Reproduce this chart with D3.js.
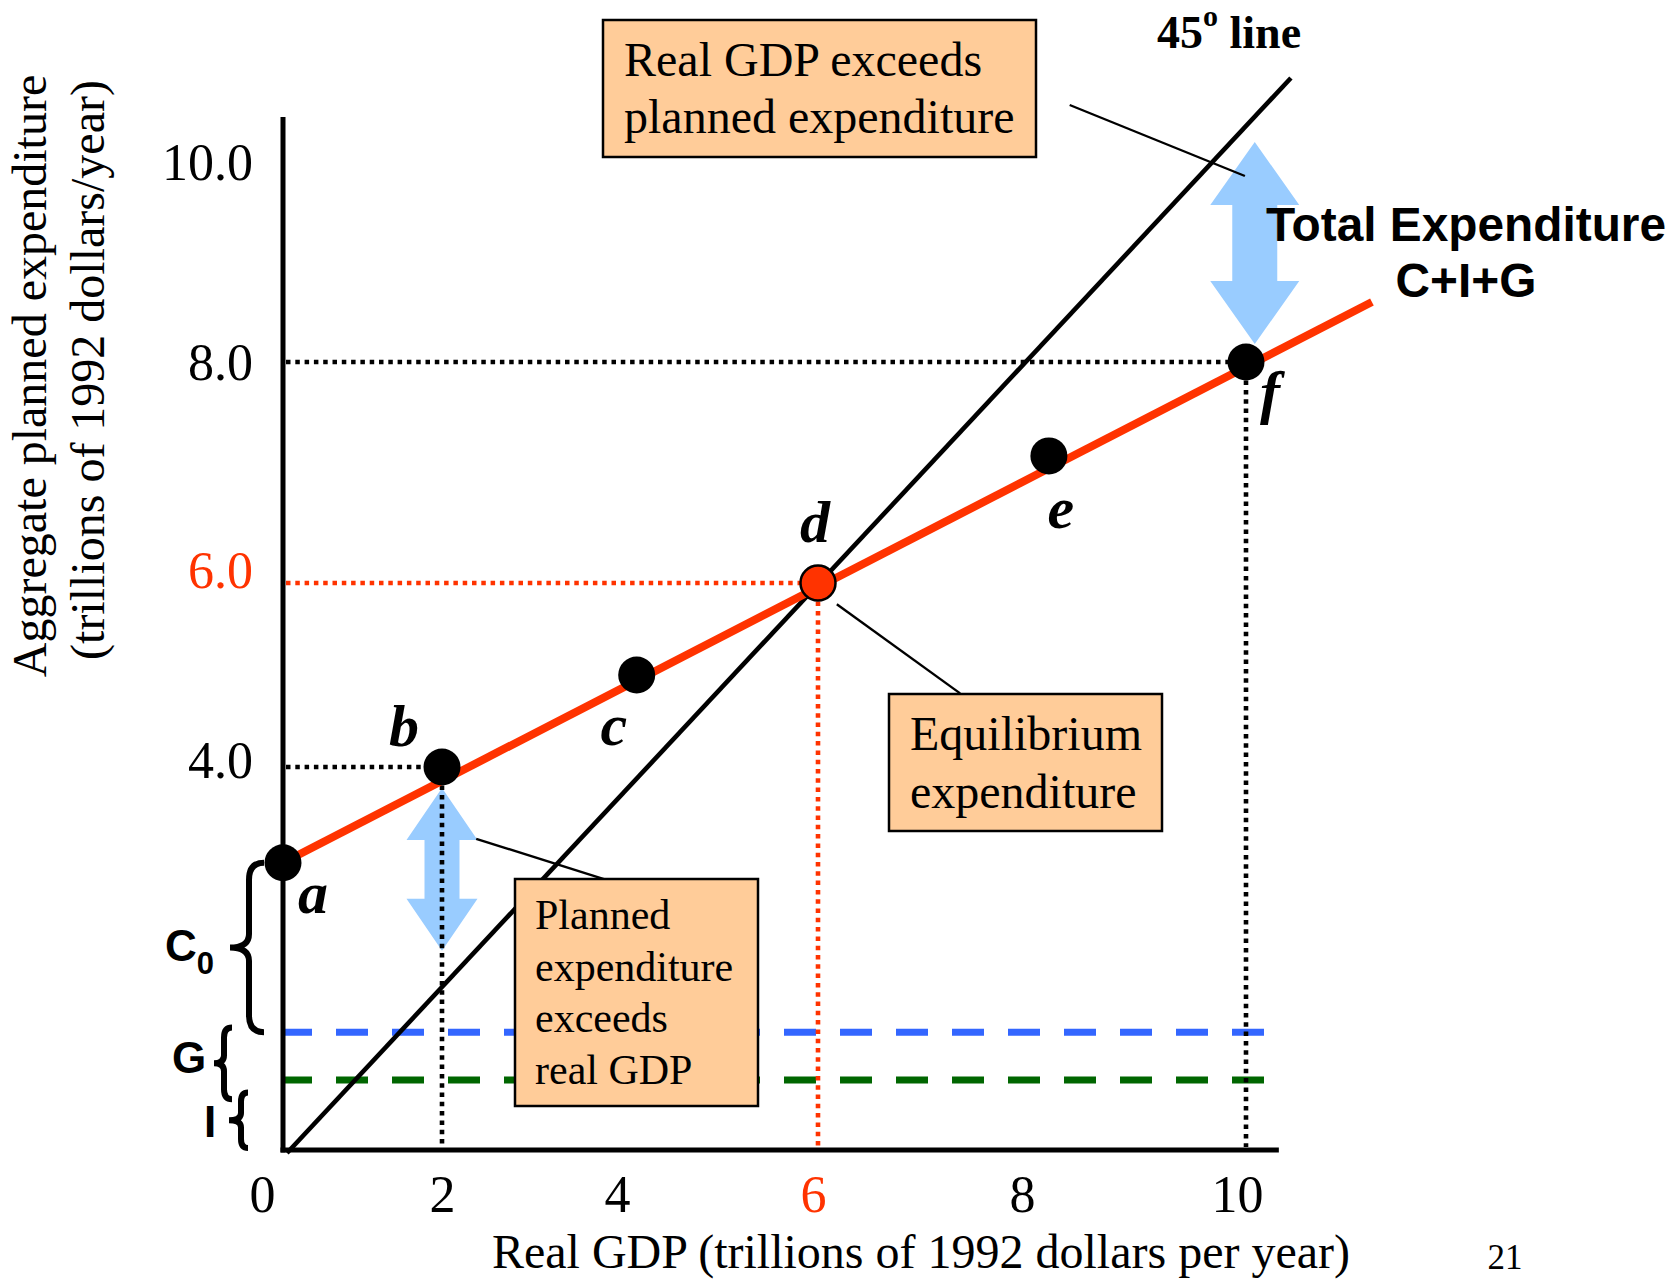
<!DOCTYPE html>
<html><head><meta charset="utf-8">
<script src="https://cdn.jsdelivr.net/npm/d3@7"></script>
<style>body{margin:0;background:#fff}</style>
</head><body>
<svg id="chart" width="1676" height="1285"></svg>
<script>
// ---- data ----
const xTicks = [0, 2, 4, 6, 8, 10];
const xTickLabels = ["0", "2", "4", "6", "8", "10"];
const yTicks = [4, 6, 8, 10];
const yTickLabels = ["4.0", "6.0", "8.0", "10.0"];
const pointNames = ["a", "b", "c", "d", "e", "f"];
const pointX = [0, 2, 4.15, 6, 8.2, 10];
const pointY = [3, 4, 5.0, 6, 7.15, 8];
const aeX = [0, 11.15];          // C+I+G line ends
const aeY = [3, 8.6];
const line45X = [0, 10.41];      // 45 degree line ends
const line45Y = [0, 10.84];
const levelNames = ["I+G", "I"];
const levelValues = [1.23, 0.73];
const levelEnd = 10.18;
const guideNames = ["b", "d", "f"];
const arrowX = [2.0, 10.08];
const arrowLow = [2.08, 8.18];
const arrowHigh = [3.78, 10.2];
const braceNames = ["C", "G", "I"];
const braceLow = [1.23, 0.53, 0.02];
const braceHigh = [3.0, 1.28, 0.6];
const axisTop = 10.45, axisRight = 10.3;

// ---- scales (hand-drawn axes: piecewise linear) ----
const x = d3.scaleLinear().domain([0, 2, 4, 6, 8, 10]).range([283, 442, 622, 818, 1027, 1246]);
const y = d3.scaleLinear().domain([0, 4, 6, 8, 10]).range([1150, 767, 583, 362, 162]);

const RED = "#FF3300", BLUEA = "#99CCFF", PEACH = "#FFCC99";
const SERIF = "'Liberation Serif','Times New Roman',serif";
const SANS = "'Liberation Sans',Arial,sans-serif";
const svg = d3.select("#chart");
svg.append("rect").attr("width", 1676).attr("height", 1285).attr("fill", "#fff");

// dashed I and I+G levels
const levelColors = ["#3366FF", "#006600"];
svg.selectAll("line.level").data(levelValues).join("line").attr("class", "level")
  .attr("x1", x(0)).attr("x2", x(levelEnd))
  .attr("y1", d => y(d)).attr("y2", d => y(d))
  .attr("stroke", (d, i) => levelColors[i]).attr("stroke-width", 7)
  .attr("stroke-dasharray", "32,24").attr("stroke-dashoffset", 3);

// light blue double arrows
function dblArrow(cx, yt, yb, hl, hw, sw) {
  return `M${cx},${yt} L${cx + hw / 2},${yt + hl} L${cx + sw / 2},${yt + hl} L${cx + sw / 2},${yb - hl} L${cx + hw / 2},${yb - hl} L${cx},${yb} L${cx - hw / 2},${yb - hl} L${cx - sw / 2},${yb - hl} L${cx - sw / 2},${yt + hl} L${cx - hw / 2},${yt + hl} Z`;
}
const arrowDims = [[52, 71, 35], [63, 89, 45]];
svg.selectAll("path.arrow").data(arrowX).join("path").attr("class", "arrow")
  .attr("d", (d, i) => dblArrow(x(d), y(arrowHigh[i]), y(arrowLow[i]), ...arrowDims[i]))
  .attr("fill", BLUEA);

// dotted guide lines
const guides = guideNames.map(n => pointNames.indexOf(n));
const dotted = svg.append("g").attr("stroke-width", 4.6).attr("stroke-dasharray", "4.5,4.8");
guides.forEach(i => {
  const c = pointNames[i] === "d" ? RED : "#000";
  dotted.append("line").attr("x1", x(0) + 3).attr("x2", x(pointX[i]))
    .attr("y1", y(pointY[i])).attr("y2", y(pointY[i])).attr("stroke", c);
  dotted.append("line").attr("x1", x(pointX[i])).attr("x2", x(pointX[i]))
    .attr("y1", y(pointY[i])).attr("y2", y(0) - 3).attr("stroke", c);
});

// 45 degree line
svg.append("line").attr("x1", x(line45X[0]) + 4).attr("y1", y(line45Y[0]) + 3)
  .attr("x2", x(line45X[1])).attr("y2", y(line45Y[1]))
  .attr("stroke", "#000").attr("stroke-width", 4.6);

// leader lines (in data units)
const leaders = [[8.39, 10.57, 9.99, 9.86], [6.18, 5.77, 7.36, 4.80], [2.38, 3.25, 3.8, 2.83]];
svg.selectAll("line.leader").data(leaders).join("line").attr("class", "leader")
  .attr("x1", d => x(d[0])).attr("y1", d => y(d[1]))
  .attr("x2", d => x(d[2])).attr("y2", d => y(d[3]))
  .attr("stroke", "#000").attr("stroke-width", 2.4);

// C+I+G line
svg.append("line").attr("x1", x(aeX[0])).attr("y1", y(aeY[0]))
  .attr("x2", x(aeX[1])).attr("y2", y(aeY[1]))
  .attr("stroke", RED).attr("stroke-width", 8);

// axes
svg.append("line").attr("x1", x(0)).attr("x2", x(0)).attr("y1", y(axisTop)).attr("y2", y(0) + 2.5)
  .attr("stroke", "#000").attr("stroke-width", 5);
svg.append("line").attr("x1", x(0) - 2.5).attr("x2", x(axisRight)).attr("y1", y(0)).attr("y2", y(0))
  .attr("stroke", "#000").attr("stroke-width", 5);

// annotation boxes
const boxes = [
  {x: 603, y: 20, w: 433, h: 137, tx: 624, base: [76, 133], fs: 48, lines: ["Real GDP exceeds", "planned expenditure"]},
  {x: 889, y: 694, w: 273, h: 137, tx: 910, base: [750, 808], fs: 48, lines: ["Equilibrium", "expenditure"]},
  {x: 515, y: 879, w: 243, h: 227, tx: 535, base: [929, 981, 1032, 1084], fs: 42, lines: ["Planned", "expenditure", "exceeds", "real GDP"]}
];
boxes.forEach(b => {
  svg.append("rect").attr("x", b.x).attr("y", b.y).attr("width", b.w).attr("height", b.h)
    .attr("fill", PEACH).attr("stroke", "#000").attr("stroke-width", 2.5);
  b.lines.forEach((t, i) => svg.append("text").attr("x", b.tx).attr("y", b.base[i])
    .attr("font-family", SERIF).attr("font-size", b.fs).attr("fill", "#000").text(t));
});

// points
svg.selectAll("circle.pt").data(pointX).join("circle").attr("class", "pt")
  .attr("cx", d => x(d)).attr("cy", (d, i) => y(pointY[i]))
  .attr("r", (d, i) => pointNames[i] === "d" ? 17.5 : 18.5)
  .attr("fill", (d, i) => pointNames[i] === "d" ? RED : "#000")
  .attr("stroke", "#000").attr("stroke-width", (d, i) => pointNames[i] === "d" ? 2.5 : 0);

// point labels
const lblOff = {a: [30, 50], b: [-38, -21], c: [-23, 70], d: [-3, -41], e: [12, 72], f: [24, 50]};
svg.selectAll("text.pl").data(pointNames).join("text").attr("class", "pl")
  .attr("x", (d, i) => x(pointX[i]) + lblOff[d][0]).attr("y", (d, i) => y(pointY[i]) + lblOff[d][1])
  .attr("text-anchor", "middle").attr("font-family", SERIF).attr("font-size", 60)
  .attr("font-weight", "bold").attr("font-style", "italic").text(d => d);

// tick labels via d3 axes
const xAxis = svg.append("g").attr("transform", "translate(0,1212)")
  .call(d3.axisBottom(x).tickValues(xTicks).tickFormat((d, i) => xTickLabels[i]).tickSize(0));
xAxis.select(".domain").remove();
xAxis.selectAll("text").attr("y", 0).attr("dy", 0)
  .attr("dx", d => d === 0 ? -21 : d === 2 ? 0 : d === 10 ? -9 : -5)
  .attr("font-family", SERIF).attr("font-size", 52)
  .attr("fill", d => d === 6 ? RED : "#000");
const yOff = {4: 10, 6: 4, 8: 17, 10: 17};
const yAxis = svg.append("g").attr("transform", "translate(253,0)")
  .call(d3.axisLeft(y).tickValues(yTicks).tickFormat((d, i) => yTickLabels[i]).tickSize(0));
yAxis.select(".domain").remove();
yAxis.selectAll("text").attr("x", 0).attr("dy", 0).attr("y", d => yOff[d])
  .attr("font-family", SERIF).attr("font-size", 52)
  .attr("fill", d => d === 6 ? RED : "#000");

// axis titles
svg.append("text").attr("x", 921).attr("y", 1268).attr("text-anchor", "middle")
  .attr("font-family", SERIF).attr("font-size", 48).text("Real GDP (trillions of 1992 dollars per year)");
svg.append("text").attr("transform", "translate(46,376) rotate(-90)").attr("text-anchor", "middle")
  .attr("font-family", SERIF).attr("font-size", 48).text("Aggregate planned expenditure");
svg.append("text").attr("transform", "translate(104,370) rotate(-90)").attr("text-anchor", "middle")
  .attr("font-family", SERIF).attr("font-size", 48).text("(trillions of 1992 dollars/year)");

// 45 line label
const t45 = svg.append("text").attr("x", 1157).attr("y", 48).attr("font-family", SERIF)
  .attr("font-size", 46).attr("font-weight", "bold");
t45.append("tspan").text("45");
t45.append("tspan").attr("font-size", 30).attr("dy", -22).text("o");
t45.append("tspan").attr("dy", 22).text(" line");

// Total expenditure label
svg.append("text").attr("x", 1466).attr("y", 241).attr("text-anchor", "middle")
  .attr("font-family", SANS).attr("font-weight", "bold").attr("font-size", 47.8).text("Total Expenditure");
svg.append("text").attr("x", 1466).attr("y", 297).attr("text-anchor", "middle")
  .attr("font-family", SANS).attr("font-weight", "bold").attr("font-size", 47.8).text("C+I+G");

// braces
function bracePath(xt, xs, xe, yt, yb) {
  const ym = (yt + yb) / 2, r = Math.min(xe - xs + 2, (yb - yt) / 4);
  return `M${xe},${yt} Q${xs},${yt} ${xs},${yt + r} L${xs},${ym - r * 0.8} Q${xs},${ym} ${xt},${ym} Q${xs},${ym} ${xs},${ym + r * 0.8} L${xs},${yb - r} Q${xs},${yb} ${xe},${yb}`;
}
const braceX = [[230, 249, 264], [214, 224, 232], [229, 241, 248]];
svg.selectAll("path.brace").data(braceNames).join("path").attr("class", "brace")
  .attr("d", (d, i) => bracePath(...braceX[i], y(braceHigh[i]), y(braceLow[i])))
  .attr("fill", "none").attr("stroke", "#000").attr("stroke-width", 6);
const braceTxt = [[165, 961], [172, 1073], [204, 1137]];
braceNames.forEach((n, i) => {
  const t = svg.append("text").attr("x", braceTxt[i][0]).attr("y", braceTxt[i][1])
    .attr("font-family", SANS).attr("font-weight", "bold").attr("font-size", 44).text(n);
  if (n === "C") t.append("tspan").attr("font-size", 31).attr("dy", 13).text("0");
});

// page number
svg.append("text").attr("x", 1505).attr("y", 1269).attr("text-anchor", "middle")
  .attr("font-family", SERIF).attr("font-size", 35).text("21");
</script>
</body></html>
